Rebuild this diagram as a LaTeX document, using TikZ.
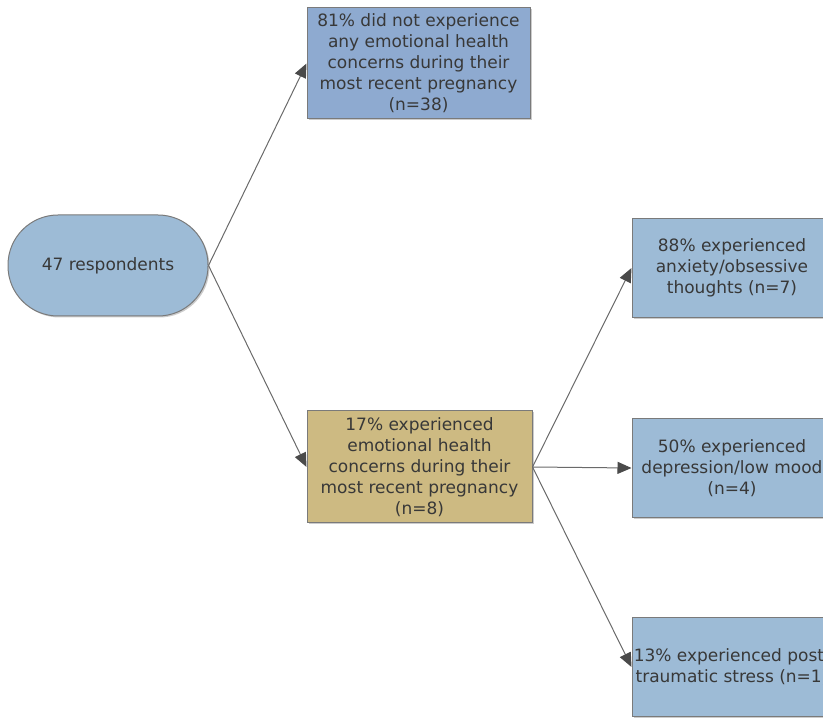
\documentclass[tikz,border=0pt]{standalone}
\usepackage{fontspec}
\setmainfont{DejaVu Sans}
\usetikzlibrary{arrows.meta,shadows}
\definecolor{boxblue}{HTML}{9DBBD6}
\definecolor{topblue}{HTML}{8EAAD0}
\definecolor{tanbox}{HTML}{CDBA82}
\definecolor{edgegray}{HTML}{7A7A7A}
\definecolor{txtgray}{HTML}{383838}
\definecolor{linegray}{HTML}{6A6A6A}
\definecolor{tipgray}{HTML}{4A4A4A}
\tikzset{
  basebox/.style={draw=edgegray, line width=1pt, inner sep=0pt, align=center,
    text=txtgray, font=\fontsize{17}{21}\selectfont,
    drop shadow={shadow xshift=1.5pt, shadow yshift=-1.5pt, fill=black, opacity=0.2}},
  termbox/.style={basebox, fill=boxblue, rounded corners=50pt,
    minimum width=200pt, minimum height=101pt},
  topbox/.style={basebox, fill=topblue, minimum width=223pt, minimum height=111pt},
  tanbx/.style={basebox, fill=tanbox, minimum width=225pt, minimum height=112pt},
  rbox/.style={basebox, fill=boxblue, minimum width=200pt, minimum height=99pt},
  conn/.style={draw=linegray, line width=1pt,
    -{Triangle[length=14pt,width=12pt,fill=tipgray,color=tipgray]}}
}
\begin{document}
\begin{tikzpicture}[x=1pt,y=-1pt]
\useasboundingbox (0,0) rectangle (823,719);
\clip (0,0) rectangle (823,719);
\node[termbox] (term) at (108,265.5) {47 respondents};
\node[topbox] (top) at (418.5,63.5) {81\% did not experience\\any emotional health\\concerns during their\\most recent pregnancy\\(n=38)};
\node[tanbx] (tan) at (419.5,467) {17\% experienced\\emotional health\\concerns during their\\most recent pregnancy\\(n=8)};
\node[rbox] (ra) at (732,268) {88\% experienced\\anxiety/obsessive\\thoughts (n=7)};
\node[rbox] (rb) at (732,468) {50\% experienced\\depression/low mood\\(n=4)};
\node[rbox] (rc) at (732,667) {13\% experienced post-\\traumatic stress (n=1)};
\draw[conn] (term.east) -- (top.west);
\draw[conn] (term.east) -- (tan.west);
\draw[conn] (tan.east) -- (ra.west);
\draw[conn] (tan.east) -- (rb.west);
\draw[conn] (tan.east) -- (rc.west);
\end{tikzpicture}
\end{document}
